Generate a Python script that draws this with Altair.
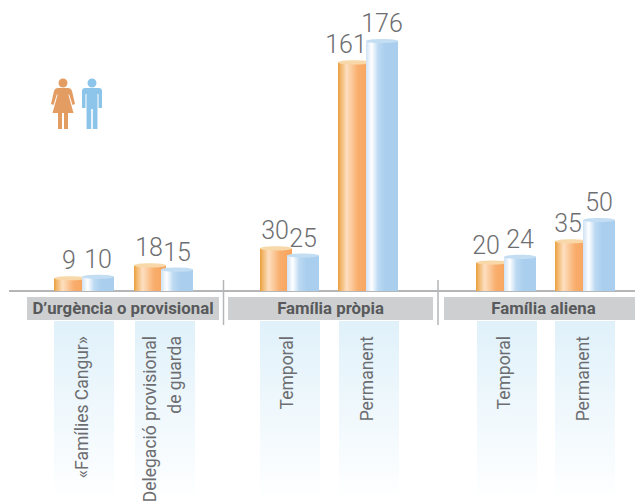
import altair as alt
import pandas as pd

# ---- data ----
types = ["«Famílies Cangur»", "Delegació provisional de guarda", "Temporal", "Permanent", "Temporal ", "Permanent "]
women = [9, 18, 30, 161, 20, 35]
men = [10, 15, 25, 176, 24, 50]
groups = ["D’urgència o provisional", "Família pròpia", "Família aliena"]
type_lines = [["«Famílies Cangur»"], ["Delegació provisional", "de guarda"], ["Temporal"], ["Permanent"], ["Temporal"], ["Permanent"]]

# ---- layout (in plot pixels; x scale is identity over the plot width) ----
W, H = 627, 493
M = 8
PX = 1.42
BASE = 291 - M
slot_left = [46, 126, 252, 330, 468, 547]
blue_left = [74, 153, 279, 358, 496, 575]
BAR = 32
woman_dx = [-1, -1, -1, -8, -6, -3]
man_dx = [0, 0, 0, 0, 0, 0]
head_spans = [(19, 211), (220, 425), (436, 635)]
seps = [215.5, 430]
band_left = [46, 127, 252, 331, 469, 547]
BAND = 60
line_x = [[75], [143, 168], [280], [360], [497], [576]]

FONT = "Roboto"
GREY = "#6d6e71"

xs = alt.Scale(domain=[0, W], range=[0, W], nice=False, zero=False)
ys = alt.Scale(domain=[-(H - BASE) / PX, BASE / PX], nice=False, zero=False)
X = lambda f: alt.X(f, type="quantitative", scale=xs, axis=None)
Y = lambda f: alt.Y(f, type="quantitative", scale=ys, axis=None)

def grad(stops, horizontal=True):
    return alt.LinearGradient(
        gradient="linear",
        stops=[alt.GradientStop(color=c, offset=o) for o, c in stops],
        x1=0, x2=1 if horizontal else 0, y1=0, y2=0 if horizontal else 1,
    )

orange_fill = grad([(0, "#e79f3c"), (0.08, "#f2b468"), (0.27, "#fddfc0"), (0.62, "#f9ae6d"), (1, "#f7a35b")])
blue_fill = grad([(0, "#cfe2f5"), (0.18, "#ffffff"), (0.38, "#bcd9f2"), (0.6, "#aacfee"), (1, "#aacfee")])
band_fill = grad([(0, "#e0f1fa"), (1, "#ffffff")], horizontal=False)

bars_w = pd.DataFrame({"type": types, "v": women, "x0": slot_left, "x1": [a + BAR for a in slot_left], "t": [a + BAR / 2 + d for a, d in zip(slot_left, woman_dx)]})
bars_w["c"] = bars_w.x0 + BAR / 2
bars_m = pd.DataFrame({"type": types, "v": men, "x0": blue_left, "x1": [a + BAR for a in blue_left], "t": [a + BAR / 2 + d for a, d in zip(blue_left, man_dx)]})
bars_m["c"] = bars_m.x0 + BAR / 2
bands = pd.DataFrame({"x0": band_left, "x1": [a + BAND for a in band_left]})
heads = pd.DataFrame({"g": groups, "x0": [s[0] for s in head_spans], "x1": [s[1] for s in head_spans], "c": [(s[0] + s[1]) / 2 for s in head_spans]})
lines = pd.DataFrame([{"s": s, "x": x} for ls, xl in zip(type_lines, line_x) for s, x in zip(ls, xl)])
sep_df = pd.DataFrame({"x": seps})

cap = "M -1 0 A 1 0.13 0 1 0 1 0 A 1 0.13 0 1 0 -1 0 Z"
head = "M -4.5 -22 A 4.5 4.5 0 1 1 4.5 -22 A 4.5 4.5 0 1 1 -4.5 -22 Z "
woman = head + ("M -5 -17 L 5 -17 Q 8 -17 9 -14 L 12 -1 L 9.5 0 L 6 -11 L 5.5 -10 L 10.5 8 L 5 8 L 5 24 L 1 24 L 1 8 "
                "L -1 8 L -1 24 L -5 24 L -5 8 L -10.5 8 L -5.5 -10 L -6 -11 L -9.5 0 L -12 -1 L -9 -14 Q -8 -17 -5 -17 Z")
man = head + ("M -7 -17 L 7 -17 Q 10 -17 10 -14 L 10 3 L 6.5 3 L 6.5 -11 L 5.5 -11 L 5.5 24 L 0.8 24 L 0.8 4 L -0.8 4 "
              "L -0.8 24 L -5.5 24 L -5.5 -11 L -6.5 -11 L -6.5 3 L -10 3 L -10 -14 Q -10 -17 -7 -17 Z")
icons = pd.DataFrame({"name": ["dona", "home"]})

def bar_layer(df, fill, capc):
    return [
        alt.Chart(df).mark_bar(color=fill, cornerRadius=0).encode(x=X("x0"), x2="x1", y=Y("v"), y2=alt.datum(0)),
        alt.Chart(df).mark_point(shape=cap, filled=True, fill=capc, opacity=1, size=BAR ** 2, strokeWidth=0).encode(x=X("c"), y=Y("v")),
    ]

def value_labels(df):
    return alt.Chart(df).mark_text(font=FONT, fontWeight=300, fontSize=25, color=GREY, baseline="alphabetic", dy=-9).encode(x=X("t"), y=Y("v"), text="v:Q")

layers = [
    alt.Chart(bands).mark_rect(color=band_fill).encode(x=X("x0"), x2="x1", y=alt.value(313), y2=alt.value(H)),
    alt.Chart(heads).mark_rect(color="#cdcfd1").encode(x=X("x0"), x2="x1", y=alt.value(289), y2=alt.value(312)),
    alt.Chart(heads).mark_text(font=FONT, fontSize=16.8, fontWeight="bold", color="#58595b", baseline="middle").encode(x=X("c"), y=alt.value(301), text="g:N"),
    alt.Chart(sep_df).mark_rule(color="#b5b6b8", strokeWidth=1.5).encode(x=X("x"), y=alt.value(272), y2=alt.value(317)),
    alt.Chart(pd.DataFrame({"a": [1], "b": [W], "z": [0]})).mark_rule(color="#b5b6b8", strokeWidth=2).encode(x=X("a"), x2="b", y=Y("z")),
]
layers += bar_layer(bars_w, orange_fill, "#f8d8a8")
layers += bar_layer(bars_m, blue_fill, "#c3ddf3")
layers += [value_labels(bars_w), value_labels(bars_m)]
layers.append(alt.Chart(lines).mark_text(font=FONT, fontSize=17.5, color=GREY, angle=270, align="right", baseline="middle").encode(x=X("x"), y=alt.value(328), text="s:N"))
layers.append(alt.Chart(icons.iloc[[0]]).mark_point(shape=woman, filled=True, fill="#e39d62", opacity=1, size=4, strokeWidth=0).encode(x=alt.value(55), y=alt.value(97)))
layers.append(alt.Chart(icons.iloc[[1]]).mark_point(shape=man, filled=True, fill="#8dc5ea", opacity=1, size=4, strokeWidth=0).encode(x=alt.value(84), y=alt.value(97)))

chart = alt.layer(*layers).properties(
    width=W, height=H, padding=0, autosize=alt.AutoSizeParams(type="none"), background="white"
).configure_view(stroke=None)

chart.save("out.html", embed_options={"renderer": "svg", "actions": False})
